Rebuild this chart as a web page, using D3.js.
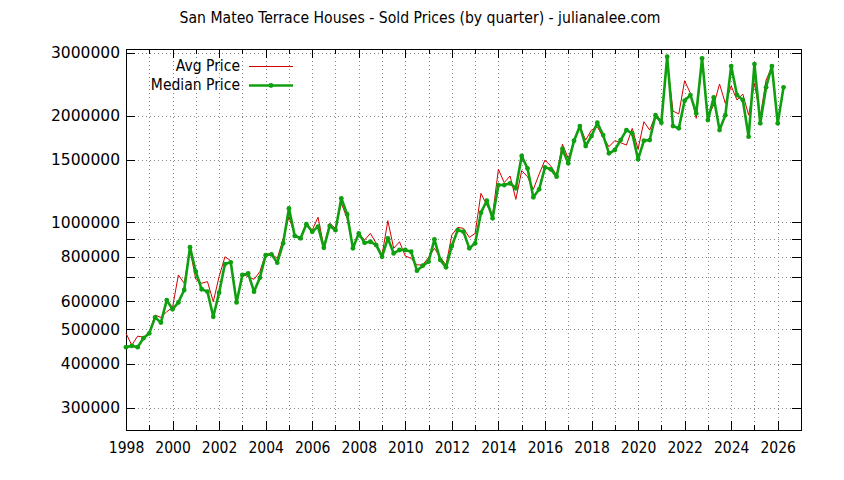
<!DOCTYPE html>
<html>
<head>
<meta charset="utf-8">
<script src="https://cdn.jsdelivr.net/npm/d3@7"></script>
<style>
  html, body { margin: 0; padding: 0; background: #fff; }
  svg { display: block; }
  text { font-family: "DejaVu Sans Condensed", "DejaVu Sans", sans-serif; fill: #000; }
</style>
</head>
<body>
<svg id="chart" width="844" height="480"></svg>
<script>
// ---- data ----
const title = "San Mateo Terrace Houses - Sold Prices (by quarter) - julianalee.com";
const years = [1998,1999,2000,2001,2002,2003,2004,2005,2006,2007,2008,2009,2010,2011,2012,
               2013,2014,2015,2016,2017,2018,2019,2020,2021,2022,2023,2024,2025,2026];
const seriesNames = ["Avg Price", "Median Price"];
const avgPrice = [
  487000, 451000, 478000, 475000,
  490000, 548000, 540000, 560000,
  576000, 711000, 674000, 836000,
  691000, 674000, 681000, 598000,
  703000, 800000, 780000, 598000,
  715000, 703000, 691000, 726000,
  814000, 815000, 792000, 896000,
  1038000, 922000, 907000, 994000,
  951000, 1034000, 854000, 994000,
  962000, 1132000, 1027000, 854000,
  931000, 892000, 931000, 873000,
  809000, 1011000, 845000, 882000,
  804000, 792000, 759000, 759000,
  797000, 845000, 797000, 759000,
  922000, 968000, 962000, 907000,
  931000, 1207000, 1119000, 1049000,
  1411000, 1294000, 1351000, 1161000,
  1399000, 1345000, 1239000, 1368000,
  1498000, 1441000, 1359000, 1660000,
  1515000, 1688000, 1860000, 1706000,
  1820000, 1860000, 1735000, 1634000,
  1699000, 1677000, 1651000, 1840000,
  1607000, 1921000, 1820000, 2005000,
  1942000, 2867000, 2059000, 2020000,
  2507000, 2309000, 1964000, 2867000,
  1985000, 2141000, 2453000, 2164000,
  2422000, 2212000, 2299000, 2005000,
  2464000, 1985000, 2518000, 2740000,
  1901000, 2402000
];
const medianPrice = [
  445000, 449000, 445000, 472000,
  487000, 540000, 522000, 604000,
  569000, 595000, 645000, 851000,
  726000, 648000, 638000, 542000,
  634000, 763000, 772000, 595000,
  711000, 718000, 638000, 698000,
  808000, 813000, 770000, 873000,
  1095000, 916000, 902000, 988000,
  941000, 973000, 848000, 977000,
  951000, 1169000, 1054000, 845000,
  931000, 876000, 882000, 863000,
  800000, 902000, 818000, 836000,
  836000, 827000, 731000, 755000,
  775000, 896000, 784000, 747000,
  858000, 951000, 941000, 845000,
  873000, 1065000, 1151000, 1027000,
  1274000, 1274000, 1288000, 1247000,
  1538000, 1420000, 1177000, 1239000,
  1429000, 1411000, 1345000, 1610000,
  1467000, 1699000, 1868000, 1641000,
  1751000, 1909000, 1762000, 1565000,
  1599000, 1706000, 1820000, 1781000,
  1505000, 1699000, 1706000, 2005000,
  1909000, 2929000, 1868000, 1840000,
  2202000, 2284000, 2027000, 2899000,
  1942000, 2251000, 1820000, 2005000,
  2757000, 2284000, 2212000, 1743000,
  2793000, 1901000, 2402000, 2757000,
  1901000, 2402000
];
const xMajorTicks = [1998,2000,2002,2004,2006,2008,2010,2012,2014,2016,2018,2020,2022,2024,2026];
const xMinorTicks = [1999,2001,2003,2005,2007,2009,2011,2013,2015,2017,2019,2021,2023,2025,2027];
const yTicks = [300000,400000,500000,600000,700000,800000,900000,1000000,1500000,2000000,3000000];
const yTickLabels = ["300000","400000","500000","600000","","800000","","1000000","1500000","2000000","3000000"];
const xDomain = [1998, 2027];
const yDomain = [260100, 3079000];

// quarter positions (category axis)
const quarters = years.flatMap(yr => ["Q1","Q2","Q3","Q4"].map((q, i) => yr + i / 4));

// ---- layout ----
const L = 126, R = 801, T = 49, B = 430;
const svg = d3.select("#chart");
const x = d3.scaleLinear().domain(xDomain).range([L, R]);
const y = d3.scaleLog().domain(yDomain).range([B, T]);

// title
svg.append("text").attr("x", 420).attr("y", 18).attr("text-anchor", "middle")
  .attr("dominant-baseline", "middle").style("font-size", "15.6px").text(title);

// grid
const gridX = d3.axisBottom(x).tickValues(xMajorTicks.concat(xMinorTicks).filter(v => v > xDomain[0] && v < xDomain[1]))
  .tickSize(-(B - T)).tickFormat("");
svg.append("g").attr("transform", `translate(0,${B})`).call(gridX)
  .call(g => g.select(".domain").remove())
  .selectAll("line").attr("stroke", "#888").attr("stroke-dasharray", "1,3").attr("shape-rendering", "crispEdges");
const gridY = d3.axisLeft(y).tickValues(yTicks).tickSize(-(R - L)).tickFormat("");
svg.append("g").attr("transform", `translate(${L},0)`).call(gridY)
  .call(g => g.select(".domain").remove())
  .selectAll("line").attr("stroke", "#888").attr("stroke-dasharray", "1,3").attr("shape-rendering", "crispEdges");

// axes: ticks inward, mirrored
function styleAxis(g) {
  g.select(".domain").remove();
  g.selectAll("line").attr("stroke", "#000").attr("shape-rendering", "crispEdges");
  g.selectAll("text").style("font-size", "15.5px").attr("fill", "#000");
}
const yLabel = d => yTickLabels[yTicks.indexOf(d)];
svg.append("g").attr("transform", `translate(0,${B})`)
  .call(d3.axisBottom(x).tickValues(xMajorTicks).tickSizeInner(-9).tickSizeOuter(0).tickPadding(12).tickFormat(d3.format("d")))
  .call(styleAxis);
svg.append("g").attr("transform", `translate(0,${B})`)
  .call(d3.axisBottom(x).tickValues(xMinorTicks).tickSizeInner(-5).tickSizeOuter(0).tickFormat(""))
  .call(styleAxis);
svg.append("g").attr("transform", `translate(0,${T})`)
  .call(d3.axisTop(x).tickValues(xMajorTicks).tickSizeInner(-9).tickSizeOuter(0).tickFormat(""))
  .call(styleAxis);
svg.append("g").attr("transform", `translate(0,${T})`)
  .call(d3.axisTop(x).tickValues(xMinorTicks).tickSizeInner(-5).tickSizeOuter(0).tickFormat(""))
  .call(styleAxis);
svg.append("g").attr("transform", `translate(${L},0)`)
  .call(d3.axisLeft(y).tickValues(yTicks).tickSizeInner(-9).tickSizeOuter(0).tickPadding(6).tickFormat(yLabel))
  .call(styleAxis)
  .call(g => g.selectAll("text").style("font-family", "'DejaVu Sans', sans-serif").style("font-size", "15.5px"));
svg.append("g").attr("transform", `translate(${R},0)`)
  .call(d3.axisRight(y).tickValues(yTicks).tickSizeInner(-9).tickSizeOuter(0).tickFormat(""))
  .call(styleAxis);

// border
svg.append("rect").attr("x", L + 0.5).attr("y", T + 0.5).attr("width", R - L).attr("height", B - T)
  .attr("fill", "none").attr("stroke", "#000").attr("stroke-width", 1).attr("shape-rendering", "crispEdges");

// series
const avgColor = "#d40000", medColor = "#0ea00e";
const line = d3.line().x(d => x(d[0])).y(d => y(d[1]));
const avgData = avgPrice.map((v, i) => [quarters[i], v]);
const medData = medianPrice.map((v, i) => [quarters[i], v]);
svg.append("path").datum(avgData).attr("d", line).attr("fill", "none")
  .attr("stroke", avgColor).attr("stroke-width", 1);
svg.append("path").datum(medData).attr("d", line).attr("fill", "none")
  .attr("stroke", medColor).attr("stroke-width", 2.6).attr("stroke-linejoin", "round");
svg.append("g").selectAll("circle").data(medData).join("circle")
  .attr("cx", d => x(d[0])).attr("cy", d => y(d[1])).attr("r", 2.4).attr("fill", medColor);

// legend
const lg = svg.append("g");
lg.append("text").attr("x", 240).attr("y", 66).attr("text-anchor", "end").attr("dominant-baseline", "middle")
  .style("font-size", "15.5px").text(seriesNames[0]);
lg.append("line").attr("x1", 249).attr("x2", 293).attr("y1", 66.5).attr("y2", 66.5)
  .attr("stroke", avgColor).attr("stroke-width", 1);
lg.append("text").attr("x", 240).attr("y", 85).attr("text-anchor", "end").attr("dominant-baseline", "middle")
  .style("font-size", "15.5px").text(seriesNames[1]);
lg.append("line").attr("x1", 249).attr("x2", 293).attr("y1", 85.5).attr("y2", 85.5)
  .attr("stroke", medColor).attr("stroke-width", 2.6);
lg.append("circle").attr("cx", 271).attr("cy", 85.5).attr("r", 2.4).attr("fill", medColor);
</script>
</body>
</html>
